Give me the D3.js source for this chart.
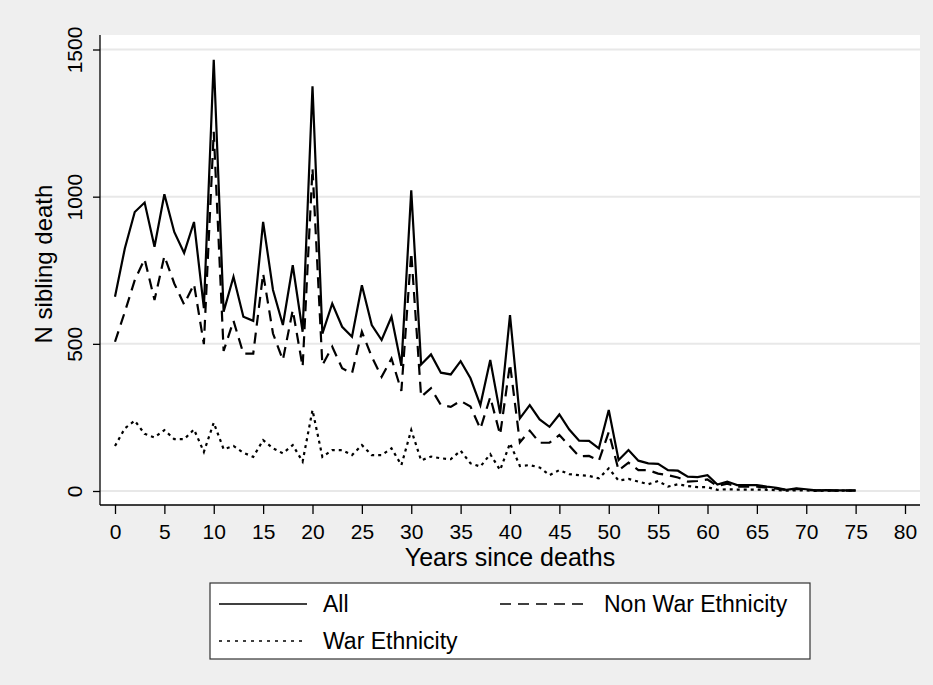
<!DOCTYPE html>
<html>
<head>
<meta charset="utf-8">
<script src="https://cdn.jsdelivr.net/npm/d3@7"></script>
<style>
  body { margin: 0; background: #efefef; }
  svg { display: block; font-family: "Liberation Sans", Arial, Helvetica, sans-serif; }
</style>
</head>
<body>
<div id="chart"></div>
<script>
// Sibling deaths by years since death, Stata-style line chart

// ---------- Data ----------
const years = d3.range(0, 76);

const allDeaths = [
  660, 825, 948, 980, 830, 1008, 880, 809, 914, 621,
  1465, 609, 728, 592, 578, 914, 683, 564, 767, 541,
  1375, 535, 637, 558, 524, 699, 564, 513, 592, 425,
  1022, 430, 464, 402, 396, 441, 383, 292, 445, 263,
  598, 247, 292, 243, 218, 260, 209, 171, 170, 145,
  275, 105, 139, 103, 94, 92, 71, 69, 49, 47,
  54, 22, 32, 20, 20, 20, 15, 11, 4, 9,
  6, 2, 3, 2, 2, 2
];

const nonWarDeaths = [
  507, 609, 716, 788, 649, 798, 705, 634, 703, 499,
  1220, 476, 578, 467, 467, 739, 535, 445, 615, 422,
  1096, 428, 490, 417, 400, 541, 456, 388, 450, 340,
  810, 320, 349, 292, 286, 306, 287, 211, 319, 191,
  432, 165, 205, 164, 164, 190, 154, 118, 119, 103,
  200, 70, 96, 71, 71, 59, 54, 46, 32, 34,
  39, 17, 25, 15, 15, 15, 11, 8, 3, 7,
  4, 2, 2, 1, 1, 1
];

const warDeaths = [
  153, 213, 239, 194, 182, 207, 176, 176, 209, 133,
  232, 142, 153, 130, 116, 173, 145, 128, 156, 100,
  275, 116, 139, 139, 122, 156, 122, 122, 145, 88,
  207, 104, 117, 111, 108, 137, 94, 83, 125, 71,
  162, 85, 88, 80, 54, 71, 57, 54, 51, 43,
  77, 35, 41, 32, 23, 34, 15, 23, 17, 13,
  13, 4, 6, 5, 5, 5, 4, 3, 1, 2,
  2, 0, 1, 1, 1, 1
];

const xTicks = d3.range(0, 81, 5);
const yTicks = [0, 500, 1000, 1500];

// ---------- Layout ----------
const width = 933;
const height = 685;
const plot = { left: 100, right: 920, top: 35, bottom: 505 };

const series = [
  { name: "All", values: allDeaths, dash: null },
  { name: "Non War Ethnicity", values: nonWarDeaths, dash: "11,7" },
  { name: "War Ethnicity", values: warDeaths, dash: "3,4" }
];

const svg = d3.select("#chart")
  .append("svg")
  .attr("width", width)
  .attr("height", height);

// outer background
svg.append("rect")
  .attr("width", width)
  .attr("height", height)
  .attr("fill", "#efefef");

// plot region
svg.append("rect")
  .attr("x", plot.left)
  .attr("y", plot.top)
  .attr("width", plot.right - plot.left)
  .attr("height", plot.bottom - plot.top)
  .attr("fill", "#ffffff");

const x = d3.scaleLinear().domain([0, 80]).range([115, 905]);
const y = d3.scaleLinear().domain([0, 1500]).range([491, 49.5]);

// gridlines
svg.append("g")
  .selectAll("line")
  .data(yTicks)
  .join("line")
  .attr("x1", plot.left)
  .attr("x2", plot.right)
  .attr("y1", d => y(d))
  .attr("y2", d => y(d))
  .attr("stroke", "#e8e8e8")
  .attr("stroke-width", 2);

// ---------- Lines ----------
const line = d3.line()
  .x((d, i) => x(years[i]))
  .y(d => y(d));

svg.append("g")
  .selectAll("path")
  .data(series)
  .join("path")
  .attr("d", d => line(d.values))
  .attr("fill", "none")
  .attr("stroke", "#000")
  .attr("stroke-width", 2.2)
  .attr("stroke-linejoin", "miter")
  .attr("stroke-dasharray", d => d.dash);

// ---------- Axes ----------
const xAxis = svg.append("g")
  .attr("transform", `translate(0, ${plot.bottom})`)
  .call(d3.axisBottom(x).tickValues(xTicks).tickSize(9).tickSizeOuter(0));

xAxis.select(".domain").remove();
xAxis.selectAll(".tick line").attr("stroke", "#000").attr("stroke-width", 1.3);
xAxis.selectAll(".tick text")
  .attr("fill", "#000")
  .attr("font-size", 21)
  .attr("dy", null)
  .attr("y", 34);

const yAxis = svg.append("g")
  .attr("transform", `translate(${plot.left}, 0)`)
  .call(d3.axisLeft(y).tickValues(yTicks).tickFormat(d3.format("d")).tickSize(7).tickSizeOuter(0));

yAxis.select(".domain").remove();
yAxis.selectAll(".tick line").attr("stroke", "#000").attr("stroke-width", 1.3);
yAxis.selectAll(".tick text")
  .attr("fill", "#000")
  .attr("font-size", 21)
  .attr("text-anchor", "middle")
  .attr("x", 0)
  .attr("y", -18)
  .attr("dy", null)
  .attr("transform", "rotate(-90)");

// axis lines along the plot region edges
svg.append("line")
  .attr("x1", plot.left).attr("x2", plot.left)
  .attr("y1", plot.top).attr("y2", plot.bottom)
  .attr("stroke", "#000").attr("stroke-width", 1.3);

svg.append("line")
  .attr("x1", plot.left).attr("x2", plot.right)
  .attr("y1", plot.bottom).attr("y2", plot.bottom)
  .attr("stroke", "#000").attr("stroke-width", 1.3);

// axis titles
svg.append("text")
  .attr("x", (plot.left + plot.right) / 2)
  .attr("y", 566)
  .attr("text-anchor", "middle")
  .attr("font-size", 25)
  .text("Years since deaths");

svg.append("text")
  .attr("transform", `translate(52, ${(plot.top + plot.bottom) / 2 - 6}) rotate(-90)`)
  .attr("text-anchor", "middle")
  .attr("font-size", 24)
  .text("N sibling death");

// ---------- Legend ----------
const legend = svg.append("g");

legend.append("rect")
  .attr("x", 210)
  .attr("y", 583)
  .attr("width", 600)
  .attr("height", 76)
  .attr("fill", "#fff")
  .attr("stroke", "#333")
  .attr("stroke-width", 1.2);

const legendItems = [
  { s: series[0], lx: 219, ty: 604 },
  { s: series[1], lx: 500, ty: 604 },
  { s: series[2], lx: 219, ty: 641 }
];

legendItems.forEach(item => {
  legend.append("line")
    .attr("x1", item.lx)
    .attr("x2", item.lx + 88)
    .attr("y1", item.ty)
    .attr("y2", item.ty)
    .attr("stroke", "#000")
    .attr("stroke-width", 1.5)
    .attr("stroke-dasharray", item.s.dash === "3,4" ? "3,5" : item.s.dash);

  legend.append("text")
    .attr("x", item.lx + 104)
    .attr("y", item.ty + 8)
    .attr("font-size", 23)
    .text(item.s.name);
});
</script>
</body>
</html>
